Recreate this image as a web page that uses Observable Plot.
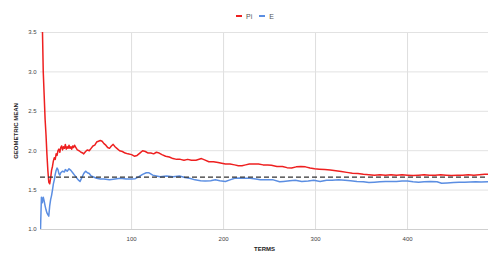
<!DOCTYPE html>
<html>
<head>
<meta charset="utf-8">
<script src="https://cdn.jsdelivr.net/npm/d3@7"></script>
<script src="https://cdn.jsdelivr.net/npm/@observablehq/plot@0.6"></script>
<style>
  html, body { margin: 0; padding: 0; background: #fff; }
  body { width: 500px; height: 267px; position: relative; overflow: hidden; font-family: "Liberation Sans", Arial, sans-serif; }
  #legend { position: absolute; top: 12px; left: 236px; height: 8px; display: flex; align-items: center; font-size: 7px; color: #555; white-space: nowrap; }
  #legend .sw { display: inline-block; width: 6px; height: 2px; margin-right: 4px; }
  #legend .item { display: flex; align-items: center; margin-right: 7px; }
  #chart { position: absolute; top: 24px; left: 0; }
</style>
</head>
<body>
<div id="legend"></div>
<div id="chart"></div>
<script>
// ---- data ----
const seriesNames = ["Pi", "E"];
const seriesColors = ["#ee2020", "#5b8ee2"];

const piTerms = [1,2,3,4,5,6,7,8,9,10,11,12,13,14,15,16,17,18,19,20,21,22,23,24,25,26,27,28,29,30,31,32,33,34,35,36,37,38,39,40,41,43,45,47,48,50,52,54,56,58,60,62,64,66,68,70,72,74,76,78,80,82,84,87,90,93,96,100,103,106,109,112,115,118,121,124,127,130,133,137,141,145,149,153,157,161,165,170,176,180,184,189,194,198,202,207,212,216,220,224,228,233,238,243,248,252,258,264,269,274,279,284,289,294,299,304,310,316,322,328,334,340,346,352,358,364,370,376,382,388,394,400,406,412,418,424,430,436,442,448,454,460,466,472,478,484,488];
const piValues = [4.5,4.0,3.6,3.0,2.7,2.4,2.2,1.95,1.75,1.6,1.58,1.65,1.75,1.8,1.87,1.91,1.89,1.96,1.94,2.0,2.02,1.98,2.04,2.06,2.01,2.05,2.03,2.08,2.02,2.05,2.03,2.07,2.03,2.05,2.02,2.06,2.04,2.07,2.05,2.03,2.01,2.0,1.98,1.97,1.96,1.99,2.01,2.0,2.03,2.06,2.07,2.11,2.12,2.13,2.12,2.09,2.07,2.04,2.03,2.06,2.08,2.05,2.03,2.0,1.99,1.97,1.96,1.95,1.93,1.94,1.97,2.0,1.99,1.97,1.97,1.96,1.98,1.97,1.95,1.93,1.92,1.9,1.89,1.89,1.88,1.89,1.88,1.88,1.9,1.88,1.86,1.86,1.85,1.84,1.83,1.83,1.82,1.81,1.81,1.82,1.83,1.83,1.83,1.82,1.82,1.815,1.8,1.8,1.785,1.78,1.795,1.8,1.795,1.78,1.77,1.765,1.76,1.755,1.745,1.735,1.725,1.715,1.71,1.7,1.695,1.69,1.695,1.69,1.695,1.69,1.695,1.69,1.685,1.69,1.695,1.69,1.69,1.695,1.69,1.685,1.69,1.69,1.695,1.69,1.695,1.7,1.7];

const eTerms = [1,2,3,4,5,6,7,8,9,10,11,12,13,14,15,16,17,18,19,20,21,22,23,25,27,28,30,32,34,36,38,40,42,44,46,48,50,52,54,56,58,62,66,70,76,82,88,94,100,104,108,112,116,119,123,127,131,138,145,152,158,163,169,175,180,186,191,196,202,207,212,218,223,229,235,240,247,254,261,265,272,278,285,292,298,305,312,318,325,332,338,345,352,358,364,370,376,382,388,394,400,406,412,418,425,432,437,443,450,456,462,468,474,480,488];
const eValues = [1.0,1.41,1.34,1.41,1.36,1.3,1.25,1.21,1.19,1.17,1.3,1.38,1.43,1.5,1.58,1.63,1.7,1.75,1.78,1.76,1.71,1.69,1.72,1.74,1.73,1.76,1.74,1.77,1.75,1.72,1.69,1.66,1.63,1.61,1.66,1.71,1.74,1.72,1.71,1.68,1.67,1.65,1.64,1.64,1.63,1.64,1.65,1.64,1.64,1.645,1.67,1.7,1.72,1.72,1.69,1.68,1.67,1.68,1.67,1.68,1.66,1.65,1.63,1.62,1.615,1.62,1.63,1.62,1.61,1.63,1.65,1.655,1.65,1.65,1.64,1.63,1.63,1.63,1.605,1.61,1.62,1.625,1.61,1.615,1.625,1.61,1.625,1.625,1.63,1.625,1.62,1.61,1.605,1.595,1.6,1.605,1.61,1.61,1.61,1.615,1.615,1.605,1.6,1.605,1.61,1.605,1.587,1.59,1.595,1.6,1.6,1.603,1.605,1.603,1.605];

const referenceLine = 1.665;
const xTicks = [100, 200, 300, 400];
const yTicks = [1.0, 1.5, 2.0, 2.5, 3.0, 3.5];
const xTitle = "TERMS";
const yTitle = "GEOMETRIC MEAN";

// ---- build tables ----
const piData = piTerms.map((t, i) => ({t, v: piValues[i]}));
const eData = eTerms.map((t, i) => ({t, v: eValues[i]}));

// ---- legend ----
const legend = document.getElementById("legend");
seriesNames.forEach((name, i) => {
  const item = document.createElement("span");
  item.className = "item";
  const sw = document.createElement("span");
  sw.className = "sw";
  sw.style.background = seriesColors[i];
  item.appendChild(sw);
  item.appendChild(document.createTextNode(name));
  legend.appendChild(item);
});

// ---- chart ----
const chart = Plot.plot({
  width: 500,
  height: 243,
  marginTop: 8,
  marginBottom: 38,
  marginLeft: 40,
  marginRight: 12,
  x: {domain: [1, 488]},
  y: {domain: [1, 3.5]},
  style: {fontFamily: "'Liberation Sans', Arial, sans-serif", fontSize: "6px", color: "#444", background: "#fff"},
  marks: [
    Plot.gridX(xTicks, {stroke: "#dedede", strokeOpacity: 1}),
    Plot.gridY(yTicks.filter(v => v > 1), {stroke: "#e2e2e2", strokeOpacity: 1}),
    Plot.ruleY([1], {stroke: "#cfcfcf"}),
    Plot.axisX(xTicks, {tickSize: 0, tickPadding: 7, label: null, fill: "#444"}),
    Plot.axisY(yTicks, {tickSize: 0, tickPadding: 4, label: null, tickFormat: d3.format(".1f"), fill: "#444"}),
    Plot.line(piData, {x: "t", y: "v", stroke: seriesColors[0], strokeWidth: 1.5, clip: true}),
    Plot.line(eData, {x: "t", y: "v", stroke: seriesColors[1], strokeWidth: 1.5, clip: true}),
    Plot.ruleY([referenceLine], {stroke: "#333", strokeWidth: 1.3, strokeDasharray: "5,3"}),
    Plot.text([yTitle], {frameAnchor: "left", dx: -24, rotate: -90, textAnchor: "middle", fontWeight: "bold", fontSize: 6, fill: "#222"}),
    Plot.text([xTitle], {frameAnchor: "bottom", dy: 21, textAnchor: "middle", fontWeight: "bold", fontSize: 6, fill: "#222"})
  ]
});
document.getElementById("chart").appendChild(chart);
</script>
</body>
</html>
